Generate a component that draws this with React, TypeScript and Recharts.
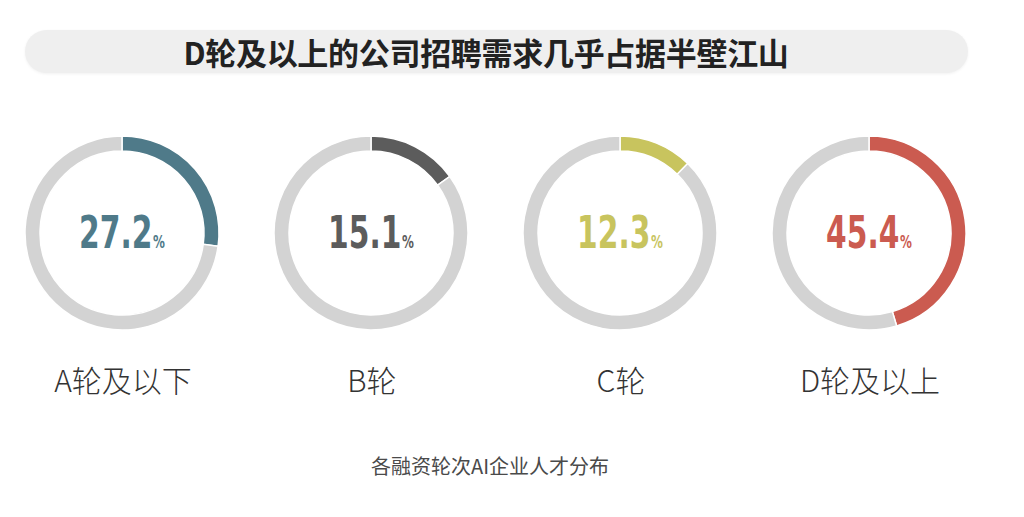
import React from 'react';
import { PieChart, Pie, Cell } from 'recharts';

const categories = ['A轮及以下', 'B轮', 'C轮', 'D轮及以上'];
const shares = [27.2, 15.1, 12.3, 45.4];
const colors = ['#4f7a89', '#5c5c5c', '#c8c45e', '#cb5b50'];
const trackColor = '#d3d3d3';
const title = 'D轮及以上的公司招聘需求几乎占据半壁江山';
const footnote = '各融资轮次AI企业人才分布';

const W = 1024;
const H = 517;
const centersX = [122, 371, 620, 869];
const cy = 233;

export default function App() {
  return (
    <div style={{ position: 'relative', width: W, height: H, margin: '-8px 0 0 -8px', background: '#fff', overflow: 'hidden' }}>
      <div
        style={{
          position: 'absolute',
          left: 25,
          top: 30,
          width: 943,
          height: 43,
          borderRadius: 22,
          background: '#efefef',
          boxShadow: '0 1px 3px rgba(0,0,0,0.06)',
        }}
      />
      <div
        style={{
          position: 'absolute',
          left: 0,
          top: 30,
          width: 972,
          height: 43,
          lineHeight: '43px',
          textAlign: 'center',
          fontFamily: '"Noto Sans CJK SC", sans-serif',
          fontWeight: 700,
          fontSize: 31,
          color: '#222',
          letterSpacing: -0.3,
        }}
      >
        {title}
      </div>
      <div style={{ position: 'absolute', left: 0, top: 0 }}>
        <PieChart width={W} height={H} margin={{ top: 0, right: 0, bottom: 0, left: 0 }}>
          {shares.map((v, i) => (
            <Pie
              key={categories[i]}
              data={[
                { name: categories[i], value: v },
                { name: 'rest', value: 100 - v },
              ]}
              dataKey="value"
              cx={centersX[i]}
              cy={cy}
              innerRadius={82}
              outerRadius={97}
              startAngle={90}
              endAngle={-270}
              stroke="#fff"
              strokeWidth={1.5}
              isAnimationActive={false}
            >
              <Cell fill={colors[i]} />
              <Cell fill={trackColor} />
            </Pie>
          ))}
        </PieChart>
      </div>
      <svg width={W} height={H} style={{ position: 'absolute', left: 0, top: 0, pointerEvents: 'none' }}>
        {shares.map((v, i) => (
          <text
            key={categories[i]}
            x={0}
            y={0}
            transform={`translate(${centersX[i]},248) scale(0.66,1)`}
            textAnchor="middle"
            fill={colors[i]}
            fontFamily='"DejaVu Sans", sans-serif'
            fontWeight={700}
            fontSize={45}
          >
            {v.toFixed(1)}
            <tspan fontSize={18} dx={1}>%</tspan>
          </text>
        ))}
        {categories.map((c, i) => (
          <text
            key={c}
            x={centersX[i] + 1}
            y={392}
            textAnchor="middle"
            fill="#333"
            fontFamily='"Noto Sans CJK SC", sans-serif'
            fontWeight={300}
            fontSize={30}
          >
            {c}
          </text>
        ))}
        <text
          x={490}
          y={474}
          textAnchor="middle"
          fill="#4a4a4a"
          fontFamily='"Noto Sans CJK SC", sans-serif'
          fontSize={20}
        >
          {footnote}
        </text>
      </svg>
    </div>
  );
}
